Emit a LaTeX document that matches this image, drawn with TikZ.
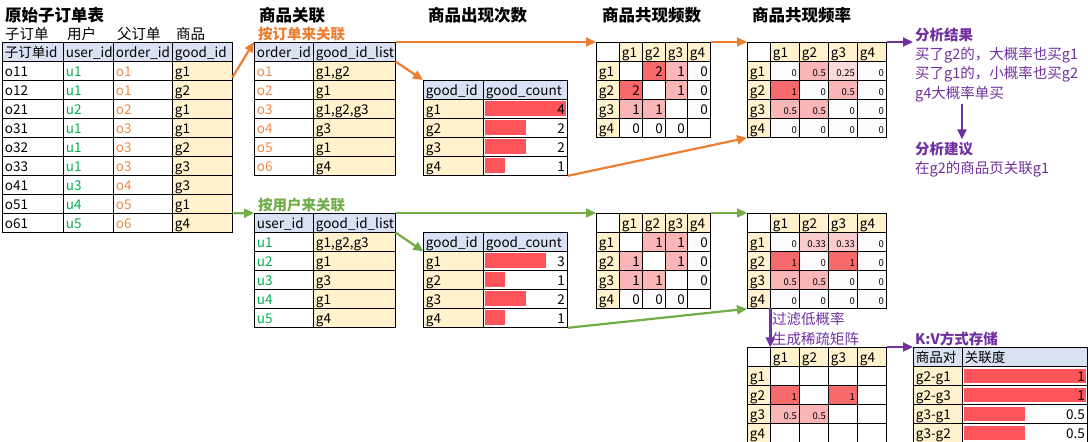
\documentclass[tikz,border=0pt]{standalone}
\usepackage{fontspec}
\setmainfont{Noto Sans CJK SC}
\usetikzlibrary{positioning,arrows.meta,matrix,backgrounds}
\definecolor{hdrblue}{RGB}{217,225,242}
\definecolor{keyfill}{RGB}{255,242,204}
\definecolor{barred}{RGB}{255,85,90}
\definecolor{heatfull}{RGB}{248,105,107}
\definecolor{heathalf}{RGB}{250,182,183}
\definecolor{heatthird}{RGB}{251,204,205}
\definecolor{heatquarter}{RGB}{252,217,218}
\definecolor{heatzero}{RGB}{252,252,255}
\definecolor{userclr}{RGB}{0,176,80}
\definecolor{orderclr}{RGB}{240,136,70}
\definecolor{orderline}{RGB}{237,125,49}
\definecolor{userline}{RGB}{112,173,71}
\definecolor{noteclr}{RGB}{112,48,160}
\newcommand{\cellfont}{\fontsize{13.5}{14}\selectfont}
\newcommand{\smallcell}{\fontsize{9.5}{10}\selectfont}
\tikzset{
  sheet/.style={matrix of nodes, nodes in empty cells, anchor=north west, inner sep=0pt, outer sep=0pt,
    column sep=-0.8pt, row sep=-0.8pt,
    nodes={draw, line width=0.8pt, inner xsep=2.5pt, inner ysep=0pt, outer sep=0pt, minimum height=19pt,
      text height=12pt, text depth=1pt, align=left, font=\cellfont}},
  listcols/.style={column 1/.style={nodes={text width=54pt}}, column 2/.style={nodes={text width=77pt, fill=keyfill}},
    row 1/.style={nodes={fill=hdrblue, text=black}}},
  countcols/.style={column 1/.style={nodes={text width=55pt, fill=keyfill}}, column 2/.style={nodes={text width=79pt, align=right}},
    row 1/.style={nodes={fill=hdrblue, align=left}}},
  cooccols/.style={column 1/.style={nodes={text width=18pt, fill=keyfill}},
    column 2/.style={nodes={text width=18pt, align=right}}, column 3/.style={nodes={text width=18pt, align=right}},
    column 4/.style={nodes={text width=17pt, align=right}}, column 5/.style={nodes={text width=18pt, align=right}},
    row 1/.style={nodes={fill=keyfill, align=left}}},
  freqcols/.style={column 1/.style={nodes={text width=18pt, fill=keyfill}},
    column 2/.style={nodes={text width=24pt, align=right, font=\smallcell}}, column 3/.style={nodes={text width=24pt, align=right, font=\smallcell}},
    column 4/.style={nodes={text width=24pt, align=right, font=\smallcell}}, column 5/.style={nodes={text width=24pt, align=right, font=\smallcell}},
    row 1/.style={nodes={fill=keyfill, align=left, font=\cellfont}}},
  hfull/.style={fill=heatfull}, hhalf/.style={fill=heathalf}, hthird/.style={fill=heatthird},
  hquarter/.style={fill=heatquarter}, hzero/.style={fill=heatzero},
  databar/.style={fill=barred},
  plaintext/.style={anchor=base west, inner sep=2pt, font=\fontsize{14.5}{19.5}\selectfont},
  sheettitle/.style={anchor=base west, inner sep=2pt, font=\fontsize{16.5}{18}\selectfont\bfseries},
  notehead/.style={anchor=base west, inner sep=2pt, text=noteclr, font=\fontsize{14.5}{19.5}\selectfont\bfseries},
  notetext/.style={anchor=base west, inner sep=2pt, text=noteclr, align=left, font=\fontsize{14.5}{19.5}\selectfont},
  orderarrow/.style={-{Triangle[length=10pt, width=9pt]}, line width=2.2pt, orderline},
  userarrow/.style={-{Triangle[length=10pt, width=9pt]}, line width=2.2pt, userline},
  notearrow/.style={-{Triangle[length=10pt, width=9pt]}, line width=2.2pt, noteclr}
}
\begin{document}
\begin{tikzpicture}[x=1pt, y=1pt]
  \useasboundingbox (0,0) rectangle (1088,-442);
  % titles
  \node[sheettitle] (orders-title) at (3,-21.3) {原始子订单表};
  \node[sheettitle] (link-title) at (257,-21.3) {商品关联};
  \node[sheettitle] (count-title) at (426,-21.3) {商品出现次数};
  \node[sheettitle] (cooc-title) at (600,-21.3) {商品共现频数};
  \node[sheettitle] (freq-title) at (750,-21.3) {商品共现频率};
  \node[plaintext] (lab-sub) at (3,-39.5) {子订单};
  \node[plaintext] (lab-user) at (65,-39.5) {用户};
  \node[plaintext] (lab-parent) at (115,-39.5) {父订单};
  \node[plaintext] (lab-good) at (174,-39.5) {商品};
  \node[plaintext, text=orderline, font=\fontsize{14.5}{19.5}\selectfont\bfseries] (by-order) at (256,-39.5) {按订单来关联};
  \node[plaintext, text=userline, font=\fontsize{14.5}{19.5}\selectfont\bfseries] (by-user) at (256,-210) {按用户来关联};

  % raw sub-orders
  \matrix[sheet,
    column 1/.style={nodes={text width=56pt}},
    column 2/.style={nodes={text width=45pt, text=userclr}},
    column 3/.style={nodes={text width=54pt, text=orderclr}},
    column 4/.style={nodes={text width=55pt, fill=keyfill}},
    row 1/.style={nodes={fill=hdrblue, text=black}}] (orders) at (2,-42) {
    子订单id & user\_id & order\_id & good\_id \\
    o11 & u1 & o1 & g1 \\
    o12 & u1 & o1 & g2 \\
    o21 & u2 & o2 & g1 \\
    o31 & u1 & o3 & g1 \\
    o32 & u1 & o3 & g2 \\
    o33 & u1 & o3 & g3 \\
    o41 & u3 & o4 & g3 \\
    o51 & u4 & o5 & g1 \\
    o61 & u5 & o6 & g4 \\
  };

  % grouped by order
  \matrix[sheet, listcols, column 1/.append style={nodes={text=orderclr}}] (byorder) at (254,-42) {
    order\_id & good\_id\_list \\
    o1 & g1,g2 \\
    o2 & g1 \\
    o3 & g1,g2,g3 \\
    o4 & g3 \\
    o5 & g1 \\
    o6 & g4 \\
  };
  \matrix[sheet, countcols] (ordercnt) at (423,-80) {
    good\_id & good\_count \\
    g1 & 4 \\
    g2 & 2 \\
    g3 & 2 \\
    g4 & 1 \\
  };
  \matrix[sheet, cooccols] (ordercooc) at (596,-42) {
    |[fill=white]| & g1 & g2 & g3 & g4 \\
    g1 & & |[hfull]| 2 & |[hhalf]| 1 & |[hzero]| 0 \\
    g2 & |[hfull]| 2 & & |[hhalf]| 1 & |[hzero]| 0 \\
    g3 & |[hhalf]| 1 & |[hhalf]| 1 & & |[hzero]| 0 \\
    g4 & |[hzero]| 0 & |[hzero]| 0 & |[hzero]| 0 & \\
  };
  \matrix[sheet, freqcols] (orderfreq) at (747,-42) {
    |[fill=white]| & g1 & g2 & g3 & g4 \\
    g1 & |[hzero]| 0 & |[hhalf]| 0.5 & |[hquarter]| 0.25 & |[hzero]| 0 \\
    g2 & |[hfull]| 1 & |[hzero]| 0 & |[hhalf]| 0.5 & |[hzero]| 0 \\
    g3 & |[hhalf]| 0.5 & |[hhalf]| 0.5 & |[hzero]| 0 & |[hzero]| 0 \\
    g4 & |[hzero]| 0 & |[hzero]| 0 & |[hzero]| 0 & |[hzero]| 0 \\
  };

  % grouped by user
  \matrix[sheet, listcols, column 1/.append style={nodes={text=userclr}}] (byuser) at (254,-213) {
    user\_id & good\_id\_list \\
    u1 & g1,g2,g3 \\
    u2 & g1 \\
    u3 & g3 \\
    u4 & g1 \\
    u5 & g4 \\
  };
  \matrix[sheet, countcols] (usercnt) at (423,-232) {
    good\_id & good\_count \\
    g1 & 3 \\
    g2 & 1 \\
    g3 & 2 \\
    g4 & 1 \\
  };
  \matrix[sheet, cooccols] (usercooc) at (596,-213) {
    |[fill=white]| & g1 & g2 & g3 & g4 \\
    g1 & & |[hhalf]| 1 & |[hhalf]| 1 & |[hzero]| 0 \\
    g2 & |[hhalf]| 1 & & |[hhalf]| 1 & |[hzero]| 0 \\
    g3 & |[hhalf]| 1 & |[hhalf]| 1 & & |[hzero]| 0 \\
    g4 & |[hzero]| 0 & |[hzero]| 0 & |[hzero]| 0 & \\
  };
  \matrix[sheet, freqcols] (userfreq) at (747,-213) {
    |[fill=white]| & g1 & g2 & g3 & g4 \\
    g1 & |[hzero]| 0 & |[hthird]| 0.33 & |[hthird]| 0.33 & |[hzero]| 0 \\
    g2 & |[hfull]| 1 & |[hzero]| 0 & |[hfull]| 1 & |[hzero]| 0 \\
    g3 & |[hhalf]| 0.5 & |[hhalf]| 0.5 & |[hzero]| 0 & |[hzero]| 0 \\
    g4 & |[hzero]| 0 & |[hzero]| 0 & |[hzero]| 0 & |[hzero]| 0 \\
  };

  % sparse matrix and key-value store
  \matrix[sheet, freqcols] (sparse) at (747,-347) {
    |[fill=white]| & g1 & g2 & g3 & g4 \\
    g1 & & & & \\
    g2 & |[hfull]| 1 & & |[hfull]| 1 & \\
    g3 & |[hhalf]| 0.5 & |[hhalf]| 0.5 & & \\
    g4 & & & & \\
  };
  \matrix[sheet,
    column 1/.style={nodes={text width=44pt, fill=keyfill}},
    column 2/.style={nodes={text width=120pt, align=right}},
    row 1/.style={nodes={fill=hdrblue, align=left}}] (kv) at (913,-347) {
    商品对 & 关联度 \\
    g2-g1 & 1 \\
    g2-g3 & 1 \\
    g3-g1 & 0.5 \\
    g3-g2 & 0.5 \\
  };

  \begin{scope}[on background layer]
    \fill[databar] ([xshift=2pt,yshift=-7.5pt]ordercnt-2-2.west) rectangle +(81pt,15pt);
    \fill[databar] ([xshift=2pt,yshift=-7.5pt]ordercnt-3-2.west) rectangle +(41pt,15pt);
    \fill[databar] ([xshift=2pt,yshift=-7.5pt]ordercnt-4-2.west) rectangle +(41pt,15pt);
    \fill[databar] ([xshift=2pt,yshift=-7.5pt]ordercnt-5-2.west) rectangle +(20pt,15pt);
    \fill[databar] ([xshift=2pt,yshift=-7.5pt]usercnt-2-2.west) rectangle +(61pt,15pt);
    \fill[databar] ([xshift=2pt,yshift=-7.5pt]usercnt-3-2.west) rectangle +(20pt,15pt);
    \fill[databar] ([xshift=2pt,yshift=-7.5pt]usercnt-4-2.west) rectangle +(41pt,15pt);
    \fill[databar] ([xshift=2pt,yshift=-7.5pt]usercnt-5-2.west) rectangle +(20pt,15pt);
    \fill[databar] ([xshift=2pt,yshift=-7pt]kv-2-2.west) rectangle +(122pt,14pt);
    \fill[databar] ([xshift=2pt,yshift=-7pt]kv-3-2.west) rectangle +(122pt,14pt);
    \fill[databar] ([xshift=2pt,yshift=-7pt]kv-4-2.west) rectangle +(61pt,14pt);
    \fill[databar] ([xshift=2pt,yshift=-7pt]kv-5-2.west) rectangle +(61pt,14pt);
  \end{scope}

  % notes
  \node[notehead] (result) at (913,-40) {分析结果};
  \node[notetext] (result-text) at (913,-98) {买了g2的，大概率也买g1\\买了g1的，小概率也买g2\\g4大概率单买};
  \node[notehead] (advice) at (913,-154) {分析建议};
  \node[notetext] (advice-text) at (913,-173.5) {在g2的商品页关联g1};
  \node[notetext] (filter) at (770,-344) {过滤低概率\\生成稀疏矩阵};
  \node[notehead] (kv-title) at (913,-344.5) {K:V方式存储};
  \coordinate (drop) at ([xshift=49pt]result-text.south west);

  % connectors
  \draw[orderarrow] ([yshift=3pt]orders-2-4.south east) -- (byorder.north west);
  \draw[orderarrow] (byorder.north east) -- (ordercooc.north west);
  \draw[orderarrow] (byorder-1-2.south east) -- (ordercnt.north west);
  \draw[orderarrow] (ordercnt.south east) -- (orderfreq.south west);
  \draw[orderarrow] (ordercooc.north east) -- (orderfreq.north west);
  \draw[userarrow] (orders-9-4.south east) -- (byuser.north west);
  \draw[userarrow] (byuser.north east) -- (usercooc.north west);
  \draw[userarrow] (byuser-1-2.south east) -- (usercnt-1-1.south west);
  \draw[userarrow] (usercnt.south east) -- (userfreq.south west);
  \draw[userarrow] (usercooc.north east) -- (userfreq.north west);
  \draw[notearrow] (orderfreq.north east) -- (orderfreq.north east -| result.west);
  \draw[notearrow] (drop) -- (drop |- advice.north);
  \draw[notearrow] (userfreq-5-1.south east) -- (sparse-1-1.north east);
  \draw[notearrow] (sparse.north east) -- (kv.north west);
\end{tikzpicture}
\end{document}
